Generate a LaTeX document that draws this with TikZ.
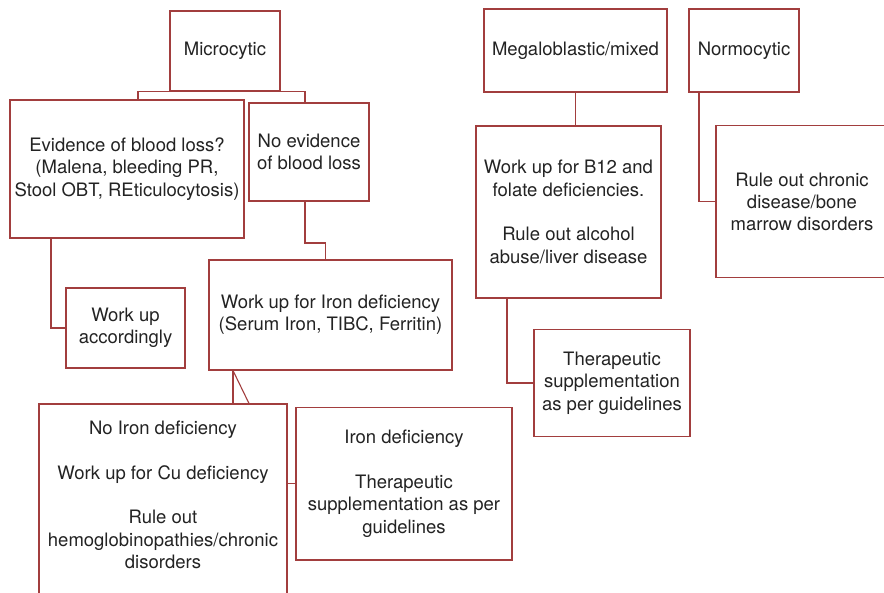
\documentclass[tikz,border=0pt]{standalone}
\usepackage{fontspec}
\setmainfont{TeX Gyre Heros}
\definecolor{boxred}{RGB}{162,62,62}
\definecolor{txt}{RGB}{35,35,35}
\begin{document}
\begin{tikzpicture}[x=1pt,y=-1pt,
  bx/.style={draw=boxred, line width=1.1pt, rectangle, inner sep=0pt, align=center, text=txt,
    font=\fontsize{18.5}{22.3}\selectfont},
  plain/.style={inner sep=0pt, align=center, text=txt, font=\fontsize{18.5}{22.3}\selectfont},
  conn/.style={draw=boxred, line width=1.1pt}]
\useasboundingbox (0,0) rectangle (884,593);
\clip (0,0) rectangle (884,593);
\fill[white] (0,0) rectangle (884,593);
% coordinates for connector routing
\coordinate (c1) at (138,91);
\coordinate (c2) at (305,91);
\coordinate (c3) at (325.7,243);
\coordinate (c5) at (51,327);
\coordinate (c6) at (233,370);
\coordinate (c7) at (249,404);
\coordinate (c8) at (507,383);
\coordinate (c9) at (699,199);
% boxes
\node[bx, minimum width=110pt, minimum height=80pt] (micro) at (225,51) {Microcytic};
\node[bx, minimum width=234pt, minimum height=138pt] (evid) at (127,169)
  {Evidence of blood loss?\\(Malena, bleeding PR,\\Stool OBT, REticulocytosis)};
\node[bx, minimum width=120pt, minimum height=98pt] (noev) at (309,152)
  {No evidence\\of blood loss};
\node[bx, minimum width=119pt, minimum height=80pt] (workacc) at (125.5,328)
  {Work up\\accordingly};
\node[bx, minimum width=243pt, minimum height=110pt] (ironwu) at (330.5,315)
  {Work up for Iron deficiency\\(Serum Iron, TIBC, Ferritin)};
\node[bx, minimum width=248pt, minimum height=216pt] (noiron) at (163,512) {};
\node[plain] (noirontext) at (163,495)
  {No Iron deficiency\\[22.3pt]Work up for Cu deficiency\\[22.3pt]Rule out\\hemoglobinopathies/chronic\\disorders};
\node[bx, minimum width=216pt, minimum height=152.5pt] (irondef) at (404,483.7)
  {Iron deficiency\\[22.3pt]Therapeutic\\supplementation as per\\guidelines};
\node[bx, minimum width=183pt, minimum height=83pt] (mega) at (575.5,50.5) {Megaloblastic/mixed};
\node[bx, minimum width=185pt, minimum height=172pt] (b12) at (568.5,212)
  {Work up for B12 and\\folate deficiencies.\\[22.3pt]Rule out alcohol\\abuse/liver disease};
\node[bx, minimum width=156pt, minimum height=106.5pt] (ther) at (612,383)
  {Therapeutic\\supplementation\\as per guidelines};
\node[bx, minimum width=110pt, minimum height=83pt] (normo) at (744,50.5) {Normocytic};
\node[bx, minimum width=172pt, minimum height=151.5pt] (chronic) at (802,201.7)
  {Rule out chronic\\disease/bone\\marrow disorders};
% connectors
\draw[conn] (evid.north -| c1) |- (micro.south) -| (noev.north -| c2);
\draw[conn] (noev.south -| c2) |- (c3) -- (ironwu.north -| c3);
\draw[conn] (evid.south -| c5) |- (workacc.west);
\draw[conn] (ironwu.south -| c6) -- (noiron.north -| c6);
\draw[conn] (ironwu.south -| c6) -- (noiron.north -| c7);
\draw[conn] (irondef.west -| noiron.east) -- (irondef.west);
\draw[conn] (mega.south) -- (b12.north -| mega.south);
\draw[conn] (b12.south -| c8) |- (ther.west);
\draw[conn] (normo.south -| c9) |- (chronic.west);
\end{tikzpicture}
\end{document}
